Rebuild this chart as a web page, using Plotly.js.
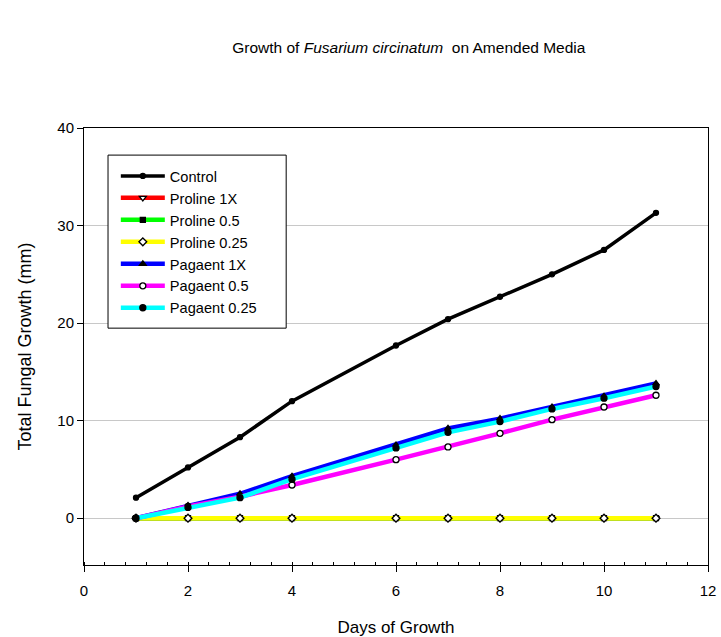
<!DOCTYPE html>
<html>
<head>
<meta charset="utf-8">
<script src="https://cdn.plot.ly/plotly-3.0.1.min.js"></script>
<style>html,body{margin:0;padding:0;background:#fff;}#chart{width:721px;height:637px;}</style>
</head>
<body>
<div id="chart"></div>
<script>
const days = [1, 2, 3, 4, 6, 7, 8, 9, 10, 11];
const control = [2.1, 5.2, 8.3, 12.0, 17.7, 20.4, 22.7, 25.0, 27.5, 31.3];
const proline1x = [0, 0, 0, 0, 0, 0, 0, 0, 0, 0];
const proline05 = [0, 0, 0, 0, 0, 0, 0, 0, 0, 0];
const proline025 = [0, 0, 0, 0, 0, 0, 0, 0, 0, 0];
const pagaent1x = [0, 1.3, 2.5, 4.3, 7.5, 9.2, 10.2, 11.4, 12.5, 13.8];
const pagaent05 = [0, 1.2, 2.2, 3.4, 6.0, 7.3, 8.7, 10.1, 11.4, 12.6];
const pagaent025 = [0, 1.1, 2.1, 4.0, 7.2, 8.8, 9.9, 11.2, 12.3, 13.5];

const seriesNames = ["Control", "Proline 1X", "Proline 0.5", "Proline 0.25", "Pagaent 1X", "Pagaent 0.5", "Pagaent 0.25"];
const seriesValues = [control, proline1x, proline05, proline025, pagaent1x, pagaent05, pagaent025];

const styles = [
  {color: "#000000", width: 3.5, symbol: "circle", msize: 5, mfill: "#000000"},
  {color: "#ff0000", width: 4.5, symbol: "triangle-down", msize: 6, mfill: "#ffffff"},
  {color: "#00ff00", width: 4.5, symbol: "square", msize: 5, mfill: "#000000"},
  {color: "#ffff00", width: 4.5, symbol: "diamond", msize: 6, mfill: "#ffffff"},
  {color: "#0000ff", width: 4.5, symbol: "triangle-up", msize: 6, mfill: "#000000"},
  {color: "#ff00ff", width: 4.5, symbol: "circle", msize: 6, mfill: "#ffffff"},
  {color: "#00ffff", width: 4.5, symbol: "circle", msize: 6, mfill: "#000000"}
];

const traces = seriesNames.map((name, i) => ({
  type: "scatter",
  mode: "lines+markers",
  name: name,
  x: days,
  y: seriesValues[i],
  line: {color: styles[i].color, width: styles[i].width},
  marker: {
    symbol: styles[i].symbol,
    size: styles[i].msize,
    color: styles[i].mfill,
    line: {color: "#000000", width: 1.3}
  }
}));

const layout = {
  width: 721,
  height: 637,
  paper_bgcolor: "#ffffff",
  plot_bgcolor: "#ffffff",
  font: {family: "Liberation Sans, Arial, sans-serif", color: "#000000", size: 15},
  margin: {l: 84, r: 13, t: 128, b: 72},
  title: {
    text: "Growth of <i>Fusarium circinatum</i>\u00a0 on Amended Media",
    font: {size: 15.5, family: "Liberation Sans, Arial, sans-serif", color: "#000"},
    x: 0.567, xref: "container", xanchor: "center",
    y: 0.925, yref: "container", yanchor: "middle"
  },
  xaxis: {
    range: [0, 12],
    tickvals: [0, 2, 4, 6, 8, 10, 12],
    ticks: "outside",
    ticklen: 6,
    tickcolor: "#000",
    ticklabelstandoff: 6,
    showline: true,
    linecolor: "#000",
    linewidth: 1,
    mirror: true,
    showgrid: false,
    zeroline: false,
    tickfont: {size: 15},
    minor: {dtick: 0.4, tick0: 0, ticks: "inside", ticklen: 3, tickcolor: "#000", showgrid: false},
    title: {text: "Days of Growth", font: {size: 17}, standoff: 23}
  },
  yaxis: {
    range: [-4.8, 40],
    tickvals: [0, 10, 20, 30, 40],
    ticks: "outside",
    ticklen: 6,
    tickcolor: "#000",
    showline: true,
    linecolor: "#000",
    linewidth: 1,
    mirror: true,
    showgrid: true,
    gridcolor: "#c8c8c8",
    gridwidth: 1,
    zeroline: false,
    tickfont: {size: 15},
    title: {text: "Total Fungal Growth (mm)", font: {size: 18}, standoff: 21}
  },
  shapes: [{
    type: "rect", xref: "paper", yref: "paper",
    x0: 0.0385, x1: 0.324, y0: 0.542, y1: 0.938,
    line: {color: "#000", width: 1}, fillcolor: "#ffffff", layer: "above"
  }],
  legend: {
    x: 0.051, y: 0.927, xanchor: "left", yanchor: "top",
    bgcolor: "rgba(0,0,0,0)",
    borderwidth: 0,
    font: {size: 14.6},
    tracegroupgap: 0,
    itemwidth: 44
  },
  showlegend: true
};

Plotly.newPlot("chart", traces, layout, {displayModeBar: false, staticPlot: true});
</script>
</body>
</html>
